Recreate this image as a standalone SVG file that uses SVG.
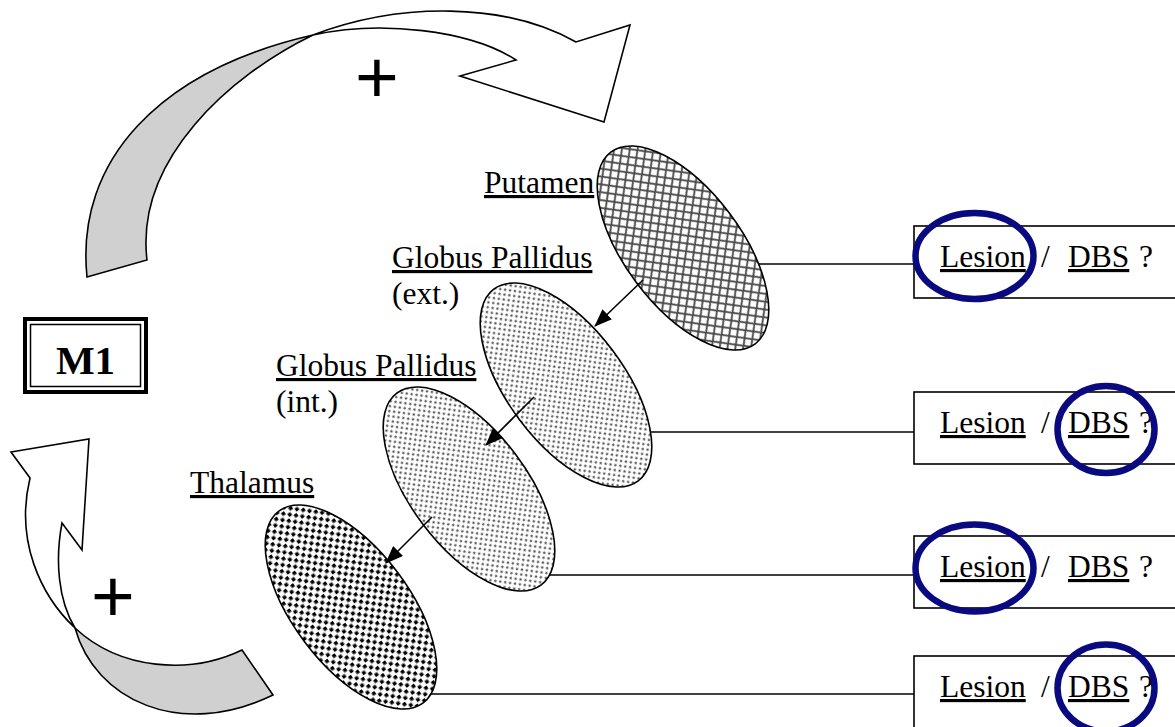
<svg xmlns="http://www.w3.org/2000/svg" width="1175" height="727" viewBox="0 0 1175 727">
<defs>
<style>
.t{font-family:"Liberation Serif","Times New Roman",serif;font-size:31.5px;fill:#000}
.u{text-decoration:underline}
.plus{font-family:"Liberation Sans",Arial,sans-serif;font-size:75px;fill:#000;text-anchor:middle}
.ell{stroke:#000;stroke-width:1.6}
.box{fill:#fff;stroke:#000;stroke-width:1.6}
.link{stroke:#000;stroke-width:1.6;fill:none}
.circ{fill:none;stroke:#0a0a80;stroke-width:6.5}
.band{stroke:#000;stroke-width:1.6;stroke-linejoin:miter}
</style>
<pattern id="hatch" width="11" height="11" patternUnits="userSpaceOnUse">
<rect width="11" height="11" fill="#fff"/>
<path d="M0,0L11,11M11,0L0,11M-2,9L2,13M9,-2L13,2M-2,2L2,-2M9,13L13,9" stroke="#444" stroke-width="1.8"/>
</pattern>
<pattern id="dots" width="7" height="7" patternUnits="userSpaceOnUse">
<rect width="7" height="7" fill="#fff"/>
<circle cx="1.75" cy="1.75" r="1.2" fill="#555"/>
<circle cx="5.25" cy="5.25" r="1.2" fill="#555"/>
</pattern>
<pattern id="squares" width="9" height="9" patternUnits="userSpaceOnUse">
<rect width="9" height="9" fill="#fff"/>
<rect x="0" y="0" width="3.6" height="3.6" fill="#000"/>
<rect x="4.5" y="4.5" width="3.6" height="3.6" fill="#000"/>
</pattern>
<marker id="ah" markerUnits="userSpaceOnUse" markerWidth="18" markerHeight="14" refX="17" refY="7" orient="auto">
<path d="M0,0 L18,7 L0,14 Z" fill="#000"/>
</marker>
</defs>
<rect width="1175" height="727" fill="#fff"/>

<g id="top-arrow">
<path class="band" fill="#d0d0d0" d="M87,277 C75,160 160,70 313,35 C230,75 135,160 147,260 Z"/>
<path class="band" fill="#fff" d="M313,35 C400,2 505,2 576,42 L630,25 L604,122 L460,76 L516,60 C470,30 380,20 313,35 Z"/>
<text class="plus" x="377" y="103">+</text>
</g>

<g id="bottom-arrow">
<path class="band" fill="#d0d0d0" d="M75,628 C95,700 180,740 273,695 L242,650 C190,675 120,670 75,628 Z"/>
<path class="band" fill="#fff" d="M11,452 L89,439 L82,550 L62,523 C55,560 58,600 75,628 C40,595 15,540 30,478 Z"/>
<text class="plus" x="113" y="622">+</text>
</g>

<g id="m1">
<rect x="25" y="319" width="121" height="73" fill="#fff" stroke="#000" stroke-width="4"/>
<rect x="30.5" y="324.5" width="110" height="62" fill="none" stroke="#000" stroke-width="1.5"/>
<text x="85.5" y="374" text-anchor="middle" style="font-family:'Liberation Serif','Times New Roman',serif;font-size:41px;font-weight:bold">M1</text>
</g>

<g id="connectors">
<line class="link" x1="746" y1="264" x2="914" y2="264"/>
<line class="link" x1="626" y1="432" x2="914" y2="432"/>
<line class="link" x1="530" y1="575" x2="914" y2="575"/>
<line class="link" x1="420" y1="694" x2="914" y2="694"/>
</g>

<g id="putamen">
<ellipse class="ell" cx="683" cy="248" rx="120" ry="58" transform="rotate(53 683 248)" fill="url(#hatch)"/>
<text class="t u" x="484" y="193">Putamen</text>
</g>

<g id="gp-ext">
<ellipse class="ell" cx="566" cy="385" rx="120" ry="58" transform="rotate(53 566 385)" fill="url(#dots)"/>
<text class="t" x="392" y="268"><tspan class="u">Globus Pallidus</tspan></text>
<text class="t" x="392" y="304">(ext.)</text>
</g>

<g id="gp-int">
<ellipse class="ell" cx="469" cy="489" rx="120" ry="58" transform="rotate(53 469 489)" fill="url(#dots)"/>
<text class="t" x="276" y="376"><tspan class="u">Globus Pallidus</tspan></text>
<text class="t" x="276" y="412">(int.)</text>
</g>

<g id="thalamus">
<ellipse class="ell" cx="351" cy="607" rx="120" ry="58" transform="rotate(53 351 607)" fill="url(#squares)"/>
<text class="t u" x="190" y="493">Thalamus</text>
</g>

<g id="arrows">
<line class="link" x1="643" y1="280" x2="595" y2="326" marker-end="url(#ah)"/>
<line class="link" x1="534" y1="397" x2="486" y2="445" marker-end="url(#ah)"/>
<line class="link" x1="432" y1="517" x2="386" y2="563" marker-end="url(#ah)"/>
</g>

<g id="box1">
<rect class="box" x="914" y="226" width="300" height="72"/>
<text class="t"><tspan class="u" x="940" y="267">Lesion</tspan><tspan x="1041" y="267">/</tspan><tspan class="u" x="1068" y="267">DBS</tspan><tspan x="1139" y="267">?</tspan></text>
<ellipse class="circ" cx="974.5" cy="256" rx="59" ry="43"/>
</g>
<g id="box2">
<rect class="box" x="914" y="392" width="300" height="72"/>
<text class="t"><tspan class="u" x="940" y="433">Lesion</tspan><tspan x="1041" y="433">/</tspan><tspan class="u" x="1068" y="433">DBS</tspan><tspan x="1139" y="433">?</tspan></text>
<ellipse class="circ" cx="1106" cy="429.5" rx="48.5" ry="43.5"/>
</g>
<g id="box3">
<rect class="box" x="914" y="536" width="300" height="72"/>
<text class="t"><tspan class="u" x="940" y="577">Lesion</tspan><tspan x="1041" y="577">/</tspan><tspan class="u" x="1068" y="577">DBS</tspan><tspan x="1139" y="577">?</tspan></text>
<ellipse class="circ" cx="974.5" cy="568" rx="59" ry="43.5"/>
</g>
<g id="box4">
<rect class="box" x="914" y="656" width="300" height="100"/>
<text class="t"><tspan class="u" x="940" y="697">Lesion</tspan><tspan x="1041" y="697">/</tspan><tspan class="u" x="1068" y="697">DBS</tspan><tspan x="1139" y="697">?</tspan></text>
<ellipse class="circ" cx="1106" cy="688" rx="48.5" ry="43.5"/>
</g>
</svg>
